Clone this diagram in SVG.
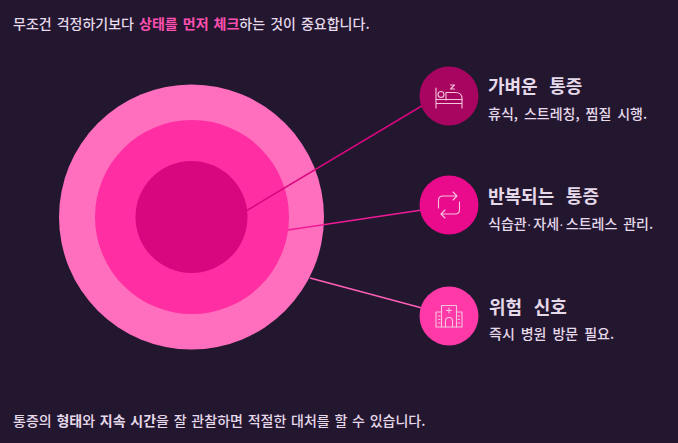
<svg xmlns="http://www.w3.org/2000/svg" width="678" height="443" viewBox="0 0 678 443">
<style>
text{font-family:"Noto Sans CJK KR","Noto Sans",sans-serif;fill:#e6d9ea}
.cap{font-size:14px;font-weight:500}
.b{font-weight:700}
.h{font-size:18px;font-weight:700;word-spacing:7.500px}
.s{font-size:14px;font-weight:500;word-spacing:2.800px}
.dot{font-family:"Liberation Sans",sans-serif;letter-spacing:2px}
.ic{fill:none;stroke:#f3c4dc;stroke-width:1.1;stroke-linecap:round;stroke-linejoin:round}
</style>
<rect width="678" height="443" fill="#231730"/>
<text class="cap" x="13" y="29" word-spacing="1.900">무조건 걱정하기보다 <tspan class="b" style="fill:#ff4fb0">상태를 먼저 체크</tspan>하는 것이 중요합니다.</text>
<g id="rings">
<circle cx="191.500" cy="217" r="132.500" fill="#ff6fbe"/>
<circle cx="192" cy="217" r="97" fill="#ff2ea3"/>
<circle cx="191.500" cy="217" r="56" fill="#d8077f"/>
</g>
<g id="connectors" fill="none" stroke-width="1.5">
<line x1="246" y1="211" x2="425" y2="104" stroke="#d8077f"/>
<line x1="288" y1="230" x2="422" y2="210" stroke="#f01a94"/>
<line x1="310" y1="278" x2="422" y2="308" stroke="#ff5fb6"/>
</g>
<g id="node-rest">
<circle cx="449" cy="96" r="29.500" fill="#a80560"/>
<g class="ic">
<path d="M436 88V108M436 103.500H462V108M462 103.500V98.500Q462 92.500 455 92.500H446V100"/>
<path d="M436 99.500H462"/>
<circle cx="441" cy="94.500" r="3"/>
<path d="M450.500 85H454.500L450.500 89H454.500"/>
</g>
<text class="h" x="488" y="93">가벼운 통증</text>
<text class="s" x="488" y="119">휴식, 스트레칭, 찜질 시행.</text>
</g>
<g id="node-repeat">
<circle cx="449" cy="205" r="29.500" fill="#ea0a8c"/>
<g class="ic">
<path d="M456 196H443Q438.500 196 438.500 200.500V208M453 192L457 196L453 200"/>
<path d="M442 214H455Q459.500 214 459.500 209.500V202M445 210L441 214L445 218"/>
</g>
<text class="h" x="488" y="203">반복되는 통증</text>
<text class="s" x="488" y="229">식습관<tspan class="dot">·</tspan>자세<tspan class="dot">·</tspan>스트레스 관리.</text>
</g>
<g id="node-danger">
<circle cx="449" cy="316" r="29.500" fill="#ff3aa8"/>
<g class="ic">
<path d="M441.500 327V305.500H456.500V327"/>
<path d="M441.500 312H436V327H462V312H456.500"/>
<path d="M449 308V313M446.500 310.500H451.500"/>
<path d="M445.500 327V321Q445.500 317.500 449 317.500Q452.500 317.500 452.500 321V327"/>
<path d="M438.500 316H440M438.500 319.500H440M438.500 323H440M458 316H459.500M458 319.500H459.500M458 323H459.500"/>
</g>
<text class="h" x="489" y="314">위험 신호</text>
<text class="s" x="489" y="339">즉시 병원 방문 필요.</text>
</g>
<text class="cap" x="13" y="426" word-spacing="1.600">통증의 <tspan class="b">형태</tspan>와 <tspan class="b">지속 시간</tspan>을 잘 관찰하면 적절한 대처를 할 수 있습니다.</text>
</svg>
